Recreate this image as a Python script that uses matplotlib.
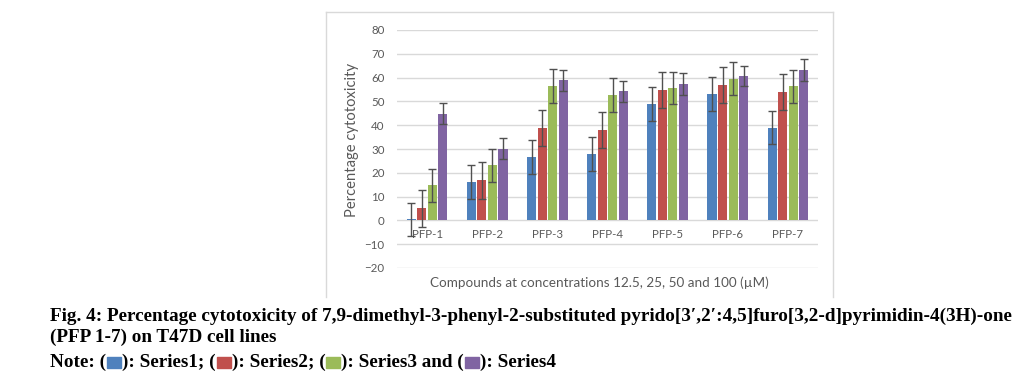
import numpy as np
import matplotlib
matplotlib.use("Agg")
import matplotlib.pyplot as plt
from matplotlib.patches import Rectangle
from matplotlib.lines import Line2D
import matplotlib.transforms as mtransforms

categories = ["PFP-1", "PFP-2", "PFP-3", "PFP-4", "PFP-5", "PFP-6", "PFP-7"]
series_names = ["Series1", "Series2", "Series3", "Series4"]
series1 = [0.4, 16.0, 26.6, 27.9, 49.0, 53.1, 38.9]
series2 = [5.0, 16.8, 38.8, 38.0, 54.8, 56.9, 53.8]
series3 = [14.7, 23.2, 56.4, 52.7, 55.6, 59.5, 56.4]
series4 = [44.8, 30.1, 58.8, 54.3, 57.3, 60.6, 63.2]
err1 = [6.9, 7.1, 7.0, 7.0, 7.1, 7.1, 7.0]
err2 = [7.7, 7.6, 7.6, 7.6, 7.7, 7.7, 7.6]
err3 = [6.9, 6.9, 7.1, 7.0, 6.9, 6.9, 6.9]
err4 = [4.4, 4.4, 4.5, 4.4, 4.5, 4.3, 4.5]
colors = ["#4F81BD", "#C0504D", "#9BBB59", "#8064A2"]

W, H = 1019, 387
fig = plt.figure(figsize=(W / 100, H / 100), dpi=100)

def fx(px):
    return px / W

def fy(py):
    return 1 - py / H

# chart frame (Excel chart area border)
frame_kw = dict(color="#D9D9D9", lw=1, transform=fig.transFigure)
fig.add_artist(Line2D([fx(326), fx(833)], [fy(12), fy(12)], **frame_kw))
fig.add_artist(Line2D([fx(326), fx(326)], [fy(12), fy(297)], **frame_kw))
fig.add_artist(Line2D([fx(833), fx(833)], [fy(12), fy(297)], **frame_kw))

ax = fig.add_axes([fx(397), fy(268), fx(818) - fx(397), fy(30) - fy(268)])

x = np.arange(len(categories))
slot = 0.175
width = 0.15
data = [series1, series2, series3, series4]
errs = [err1, err2, err3, err4]
for k, (vals, e) in enumerate(zip(data, errs)):
    ax.bar(x + (k - 1.5) * slot, vals, width, color=colors[k], zorder=3,
           label=series_names[k])
    ax.errorbar(x + (k - 1.5) * slot, vals, yerr=e, fmt="none",
                ecolor="#505050", elinewidth=1, capsize=3, capthick=1, zorder=4)

ax.set_xlim(-0.5, len(categories) - 0.5)
ax.set_ylim(-20, 80)
ax.set_yticks(range(-20, 81, 10))
ax.grid(axis="y", color="#D9D9D9", lw=1, zorder=0)
ax.set_xticks([])
for s in ax.spines.values():
    s.set_visible(False)
ax.tick_params(axis="y", length=0, pad=9, labelsize=8.3, labelcolor="#595959")
for lab in ax.get_yticklabels():
    lab.set_family("Lato")

off = mtransforms.offset_copy(ax.transData, fig=fig, x=0, y=-9, units="dots")
for i, c in enumerate(categories):
    ax.text(i, 0, c, transform=off, ha="center", va="top", fontsize=8.3,
            color="#595959", family="Lato")

fig.text(fx(352), fy(140), "Percentage cytotoxicity", rotation=90,
         ha="center", va="center", fontsize=10.6, color="#595959", family="Lato")
fig.text(fx(599), fy(283), "Compounds at concentrations 12.5, 25, 50 and 100 (\u00b5M)",
         ha="center", va="center", fontsize=9.7, color="#595959", family="Lato")

# caption
fig.canvas.draw()
renderer = fig.canvas.get_renderer()
line1 = ("Fig. 4: Percentage cytotoxicity of 7,9-dimethyl-3-phenyl-2-substituted "
         "pyrido[3\u2032,2\u2032:4,5]furo[3,2-d]pyrimidin-4(3H)-one")
cap_kw = dict(family="Liberation Serif", weight="bold", color="black", va="baseline")
t1 = fig.text(fx(50), fy(321), line1, fontsize=10, **cap_kw)
wpx = t1.get_window_extent(renderer).width
fs = 10 * 960 / wpx
t1.set_fontsize(fs)
fig.text(fx(50), fy(342), "(PFP 1-7) on T47D cell lines", fontsize=fs, **cap_kw)

pieces = ["Note: (", 0, "): Series1; (", 1, "): Series2; (", 2,
          "): Series3 and (", 3, "): Series4"]
cur = 50
for p in pieces:
    if isinstance(p, str):
        t = fig.text(fx(cur), fy(367), p, fontsize=fs, **cap_kw)
        cur += t.get_window_extent(renderer).width
    else:
        fig.add_artist(Rectangle((fx(cur + 1), fy(368)), fx(14), 11 / H,
                                 color=colors[p], transform=fig.transFigure))
        cur += 16

fig.savefig("out.png", dpi=100)
